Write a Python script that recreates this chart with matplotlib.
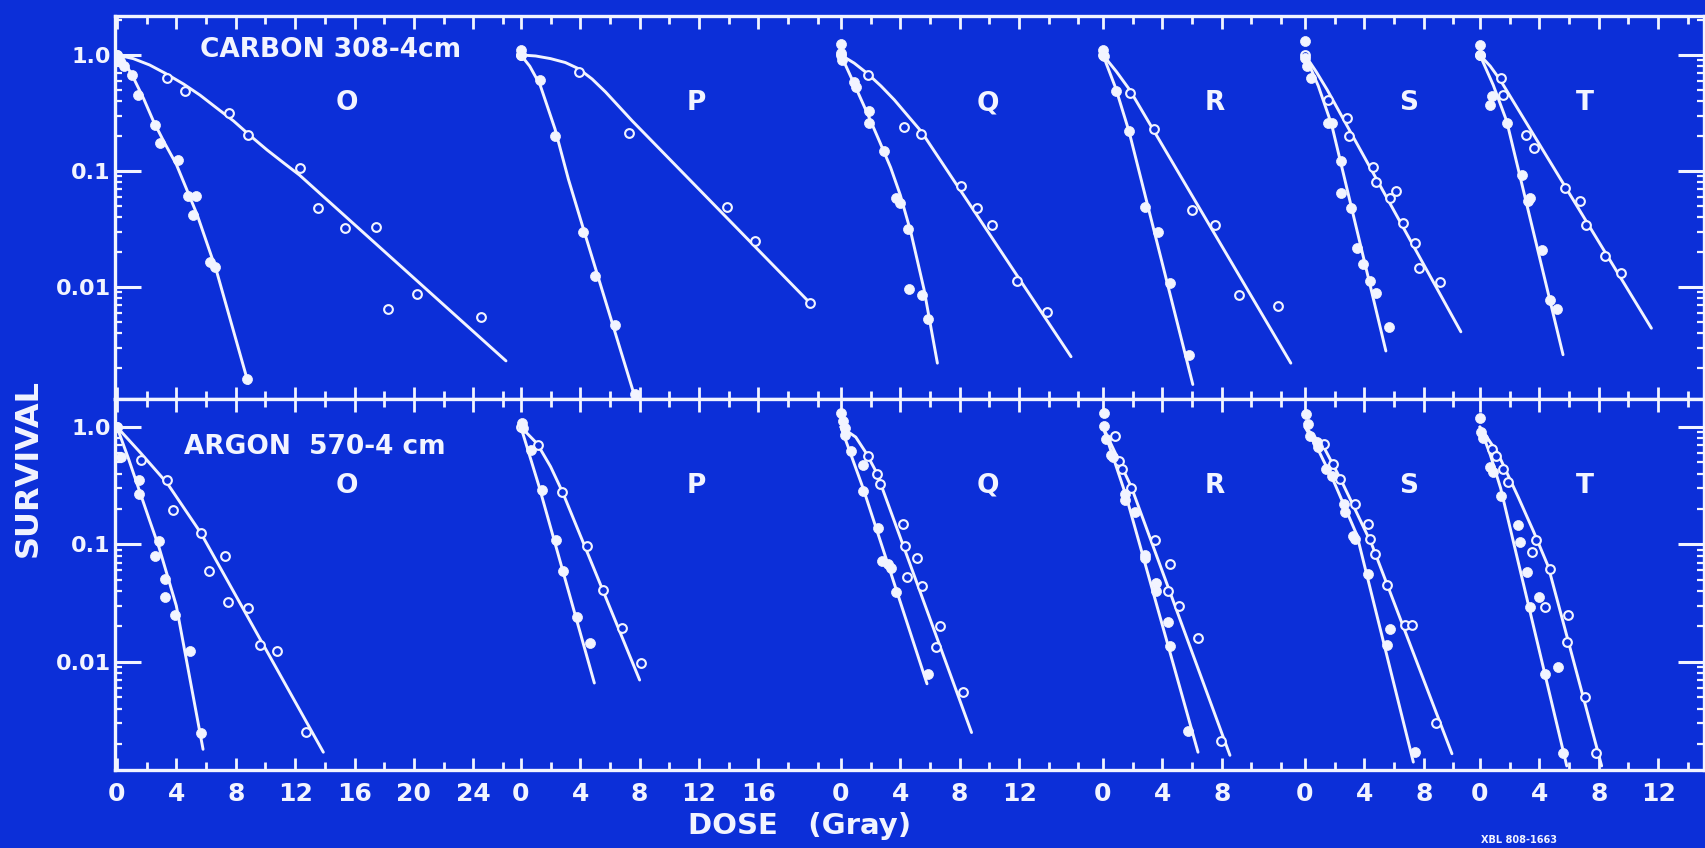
import matplotlib
matplotlib.use("Agg")
import matplotlib.pyplot as plt
from matplotlib.ticker import LogLocator, NullFormatter

BLUE = '#0c2fd8'
WHITE = '#f2f4ff'

plt.rcParams['font.family'] = ['DejaVu Sans']
plt.rcParams['font.weight'] = 'bold'

# panels share one dose axis; each panel's 0 Gy sits at its offset
panels = ['O', 'P', 'Q', 'R', 'S', 'T']
panel_offsets = [0, 27.2, 48.75, 66.4, 80.0, 91.78]
panel_labels = [[0, 4, 8, 12, 16, 20, 24], [0, 4, 8, 12, 16], [0, 4, 8, 12], [0, 4, 8], [0, 4, 8], [0, 4, 8, 12]]
panel_tick_end = [26, 20, 16, 12, 10, 14]
letter_x = [15.5, 11.8, 9.9, 7.5, 7.0, 7.1]

# ---- CARBON 308-4cm  (dose Gy, survival) ----
carbon_O_filled = [(0, 1.0), (0.2, 0.88), (0.5, 0.8), (1.0, 0.67), (1.45, 0.45), (2.55, 0.25), (2.9, 0.175),
                   (4.1, 0.125), (4.8, 0.061), (5.35, 0.061), (5.15, 0.042), (6.25, 0.0163), (6.6, 0.0148), (8.75, 0.0016)]
carbon_O_open = [(0, 1.0), (3.35, 0.63), (4.6, 0.49), (7.55, 0.316), (8.85, 0.203), (12.3, 0.105), (13.55, 0.048),
                 (15.35, 0.0325), (17.45, 0.033), (18.25, 0.0065), (20.2, 0.0087), (24.55, 0.0055)]
carbon_O_filled_fit = [(0, 1.0), (0.5, 0.88), (1.1, 0.64), (1.8, 0.42), (2.45, 0.27), (3.2, 0.175), (4.0, 0.114),
                       (5.4, 0.042), (6.7, 0.0138), (8.85, 0.00147)]
carbon_O_open_fit = [(0, 1.0), (1.1, 0.93), (2.2, 0.82), (3.3, 0.69), (4.5, 0.56), (5.6, 0.45), (6.7, 0.35),
                     (7.85, 0.27), (9.0, 0.2), (10.1, 0.152), (11.2, 0.118), (12.3, 0.092), (26.2, 0.0023)]

carbon_P_filled = [(0, 1.1), (0, 1.0), (1.3, 0.61), (2.3, 0.2), (4.2, 0.0295), (5.0, 0.0125), (6.35, 0.0047), (7.7, 0.0012)]
carbon_P_open = [(0, 1.0), (3.9, 0.72), (7.25, 0.213), (13.85, 0.049), (15.8, 0.025), (19.5, 0.0072)]
carbon_P_filled_fit = [(0, 1.0), (0.6, 0.8), (1.3, 0.55), (2.3, 0.23), (3.2, 0.085), (4.2, 0.032), (7.7, 0.0011)]
carbon_P_open_fit = [(0, 1.0), (1.0, 0.98), (2.0, 0.93), (3.0, 0.86), (3.9, 0.76), (4.8, 0.62), (5.7, 0.48),
                     (6.6, 0.36), (7.5, 0.27), (19.5, 0.0072)]

carbon_Q_filled = [(0, 1.25), (0, 1.05), (0.1, 0.9), (0.9, 0.59), (1.0, 0.53), (1.9, 0.33), (1.9, 0.26), (2.9, 0.148),
                   (3.7, 0.059), (3.95, 0.053), (4.5, 0.0316), (4.6, 0.0096), (5.45, 0.0085), (5.85, 0.0053)]
carbon_Q_open = [(0, 1.0), (1.8, 0.67), (4.25, 0.24), (5.4, 0.21), (8.1, 0.074), (9.2, 0.048), (10.2, 0.034),
                 (11.85, 0.0113), (13.9, 0.0061)]
carbon_Q_filled_fit = [(0, 1.0), (0.9, 0.56), (1.8, 0.31), (2.6, 0.18), (3.35, 0.107), (4.0, 0.062), (4.7, 0.030),
                       (5.6, 0.0095), (6.5, 0.0022)]
carbon_Q_open_fit = [(0, 1.0), (0.9, 0.85), (1.8, 0.69), (2.7, 0.54), (3.6, 0.41), (4.5, 0.3), (5.4, 0.22), (15.5, 0.0025)]

carbon_R_filled = [(0, 1.1), (0.05, 0.97), (0.85, 0.49), (1.75, 0.22), (2.85, 0.0486), (3.7, 0.0298), (4.5, 0.0108), (5.8, 0.0026)]
carbon_R_open = [(0, 1.0), (1.8, 0.47), (3.45, 0.23), (6.0, 0.0464), (7.55, 0.0344), (9.15, 0.0085), (11.8, 0.0069)]
carbon_R_filled_fit = [(0, 1.0), (0.85, 0.52), (1.75, 0.22), (6.05, 0.00144)]
carbon_R_open_fit = [(0, 1.0), (0.9, 0.72), (1.8, 0.5), (12.65, 0.0022)]

carbon_S_filled = [(0, 1.31), (0, 0.94), (0.15, 0.8), (0.4, 0.63), (1.55, 0.26), (1.8, 0.26), (2.45, 0.121), (2.45, 0.065),
                   (3.1, 0.048), (3.5, 0.0218), (3.9, 0.0156), (4.4, 0.0112), (4.8, 0.0089), (5.65, 0.0045)]
carbon_S_open = [(0, 1.0), (1.55, 0.41), (2.85, 0.286), (3.0, 0.2), (4.55, 0.108), (4.8, 0.081), (6.1, 0.067), (5.7, 0.058),
                 (6.6, 0.0356), (7.4, 0.024), (7.65, 0.0146), (9.1, 0.011)]
carbon_S_filled_fit = [(0, 1.0), (0.9, 0.54), (1.8, 0.25), (5.45, 0.0028)]
carbon_S_open_fit = [(0, 1.0), (0.75, 0.72), (1.5, 0.5), (10.5, 0.0041)]

carbon_T_filled = [(0, 1.23), (0, 1.0), (0.65, 0.37), (0.8, 0.44), (1.8, 0.26), (2.85, 0.093), (3.4, 0.058), (3.25, 0.055),
                   (4.15, 0.021), (4.7, 0.0077), (5.2, 0.0064)]
carbon_T_open = [(0, 1.0), (1.45, 0.63), (1.55, 0.45), (3.1, 0.206), (3.65, 0.158), (5.7, 0.071), (6.75, 0.055),
                 (7.15, 0.0344), (8.45, 0.0184), (9.5, 0.0132)]
carbon_T_filled_fit = [(0, 1.0), (0.9, 0.55), (1.8, 0.27), (5.6, 0.0026)]
carbon_T_open_fit = [(0, 1.0), (0.7, 0.8), (1.4, 0.6), (11.55, 0.0044)]

# ---- ARGON 570-4 cm ----
argon_O_filled = [(0, 1.0), (0.3, 0.56), (1.5, 0.35), (1.5, 0.27), (2.8, 0.106), (2.55, 0.079), (3.25, 0.051),
                  (3.25, 0.036), (3.9, 0.025), (4.95, 0.0123), (5.65, 0.0025)]
argon_O_open = [(0, 1.0), (1.65, 0.52), (3.4, 0.35), (3.75, 0.197), (5.65, 0.124), (7.25, 0.079), (6.2, 0.059),
                (7.5, 0.0326), (8.85, 0.0286), (9.65, 0.014), (10.75, 0.0123), (12.7, 0.00255)]
argon_O_filled_fit = [(0, 1.0), (0.75, 0.55), (1.5, 0.29), (2.2, 0.16), (2.85, 0.093), (4.0, 0.03), (5.8, 0.0018)]
argon_O_open_fit = [(0, 1.0), (1.6, 0.6), (3.4, 0.33), (5.65, 0.125), (13.9, 0.0017)]

argon_P_filled = [(0.1, 1.07), (0.15, 0.97), (0.65, 0.64), (1.4, 0.29), (2.4, 0.109), (2.85, 0.059), (3.75, 0.0243), (4.65, 0.0144)]
argon_P_open = [(0, 1.0), (1.15, 0.70), (2.8, 0.28), (4.45, 0.096), (5.55, 0.041), (6.8, 0.0194), (8.1, 0.0098)]
argon_P_filled_fit = [(0, 1.0), (1.2, 0.32), (4.95, 0.0066)]
argon_P_open_fit = [(0, 1.0), (1.1, 0.72), (2.0, 0.46), (2.8, 0.28), (8.0, 0.007)]

argon_Q_filled = [(0, 1.32), (0.15, 1.12), (0.25, 0.98), (0.25, 0.86), (0.7, 0.62), (1.5, 0.47), (1.5, 0.285), (2.5, 0.139),
                  (2.75, 0.072), (3.2, 0.068), (3.4, 0.063), (3.7, 0.039), (5.9, 0.0079)]
argon_Q_open = [(1.85, 0.57), (2.4, 0.40), (2.65, 0.325), (4.2, 0.149), (4.3, 0.097), (5.1, 0.077), (4.45, 0.053),
                (5.45, 0.044), (6.65, 0.0202), (6.4, 0.0135), (8.25, 0.0055)]
argon_Q_filled_fit = [(0, 1.0), (1.5, 0.3), (5.8, 0.0065)]
argon_Q_open_fit = [(0, 1.0), (1.0, 0.82), (1.7, 0.6), (2.4, 0.41), (8.8, 0.0025)]

argon_R_filled = [(0.1, 1.32), (0.1, 1.02), (0.2, 0.79), (0.55, 0.58), (0.65, 0.55), (1.45, 0.27), (1.45, 0.24), (2.15, 0.187),
                  (2.8, 0.082), (2.8, 0.077), (3.6, 0.047), (3.6, 0.04), (4.4, 0.022), (4.5, 0.0137), (5.7, 0.0026)]
argon_R_open = [(0.8, 0.84), (1.1, 0.51), (1.25, 0.44), (1.9, 0.30), (3.5, 0.11), (4.5, 0.068), (4.4, 0.04), (5.15, 0.030),
                (6.4, 0.016), (7.95, 0.0021)]
argon_R_filled_fit = [(0, 1.0), (1.55, 0.26), (6.4, 0.0017)]
argon_R_open_fit = [(0, 1.0), (1.9, 0.31), (8.55, 0.0016)]

argon_S_filled = [(0.1, 1.29), (0.2, 1.06), (0.35, 0.84), (0.8, 0.74), (0.9, 0.67), (1.45, 0.44), (1.8, 0.385), (2.6, 0.22),
                  (2.7, 0.19), (3.25, 0.119), (3.35, 0.111), (4.25, 0.056), (5.7, 0.019), (5.5, 0.0138), (7.4, 0.0017)]
argon_S_open = [(1.25, 0.72), (1.9, 0.48), (2.35, 0.36), (3.35, 0.22), (4.25, 0.149), (4.4, 0.111), (4.7, 0.083),
                (5.5, 0.045), (6.75, 0.0204), (7.2, 0.0204), (8.85, 0.003)]
argon_S_filled_fit = [(0, 1.0), (1.0, 0.6), (2.0, 0.33), (3.5, 0.12), (7.3, 0.0014)]
argon_S_open_fit = [(0, 1.0), (1.2, 0.7), (2.4, 0.36), (4.5, 0.1), (9.9, 0.00165)]

argon_T_filled = [(0, 1.18), (0.1, 0.91), (0.2, 0.8), (0.65, 0.46), (0.9, 0.41), (1.45, 0.26), (2.6, 0.146), (2.7, 0.105),
                  (3.15, 0.058), (3.35, 0.0294), (3.95, 0.0357), (4.4, 0.0079), (5.25, 0.0091), (5.6, 0.00166)]
argon_T_open = [(0.8, 0.65), (1.1, 0.57), (1.55, 0.44), (1.9, 0.34), (3.8, 0.108), (3.5, 0.086), (4.7, 0.062),
                (4.4, 0.0294), (5.95, 0.025), (5.85, 0.0148), (7.05, 0.005), (7.85, 0.00166)]
argon_T_filled_fit = [(0, 1.0), (0.7, 0.58), (1.4, 0.3), (5.85, 0.0013)]
argon_T_open_fit = [(0, 1.0), (1.2, 0.6), (2.6, 0.25), (3.6, 0.13), (4.6, 0.065), (8.2, 0.0013)]

carbon = {
    'O': (carbon_O_filled, carbon_O_open, carbon_O_filled_fit, carbon_O_open_fit),
    'P': (carbon_P_filled, carbon_P_open, carbon_P_filled_fit, carbon_P_open_fit),
    'Q': (carbon_Q_filled, carbon_Q_open, carbon_Q_filled_fit, carbon_Q_open_fit),
    'R': (carbon_R_filled, carbon_R_open, carbon_R_filled_fit, carbon_R_open_fit),
    'S': (carbon_S_filled, carbon_S_open, carbon_S_filled_fit, carbon_S_open_fit),
    'T': (carbon_T_filled, carbon_T_open, carbon_T_filled_fit, carbon_T_open_fit),
}
argon = {
    'O': (argon_O_filled, argon_O_open, argon_O_filled_fit, argon_O_open_fit),
    'P': (argon_P_filled, argon_P_open, argon_P_filled_fit, argon_P_open_fit),
    'Q': (argon_Q_filled, argon_Q_open, argon_Q_filled_fit, argon_Q_open_fit),
    'R': (argon_R_filled, argon_R_open, argon_R_filled_fit, argon_R_open_fit),
    'S': (argon_S_filled, argon_S_open, argon_S_filled_fit, argon_S_open_fit),
    'T': (argon_T_filled, argon_T_open, argon_T_filled_fit, argon_T_open_fit),
}


def shift(points, off):
    d, s = zip(*points)
    return [off + x for x in d], list(s)


def draw_row(ax, row, letter_y):
    for name, off, lx in zip(panels, panel_offsets, letter_x):
        filled, hollow, filled_fit, hollow_fit = row[name]
        for fit in (filled_fit, hollow_fit):
            x, y = shift(fit, off)
            ax.plot(x, y, color=WHITE, lw=2.1, solid_capstyle='round', solid_joinstyle='round', zorder=2)
        x, y = shift(hollow, off)
        ax.plot(x, y, 'o', ms=6.3, mfc=BLUE, mec=WHITE, mew=1.5, zorder=3)
        x, y = shift(filled, off)
        ax.plot(x, y, 'o', ms=7.2, mfc=WHITE, mec=WHITE, mew=0.5, zorder=4)
        ax.text(off + lx, letter_y, name, color=WHITE, fontsize=19, ha='center', va='center')


def style(ax, ylim):
    ax.set_facecolor(BLUE)
    ax.set_yscale('log')
    ax.set_xlim(-0.135, 106.87)
    ax.set_ylim(*ylim)
    for sp in ax.spines.values():
        sp.set_color(WHITE)
        sp.set_linewidth(2.4)
    ax.set_yticks([1, 0.1, 0.01])
    ax.set_yticklabels(['1.0', '0.1', '0.01'])
    ax.yaxis.set_minor_locator(LogLocator(base=10, subs=range(2, 10)))
    ax.yaxis.set_minor_formatter(NullFormatter())
    ax.tick_params(axis='y', which='major', direction='in', length=19, width=2.2, colors=WHITE,
                   left=True, right=True, labelsize=16, pad=3)
    ax.tick_params(axis='y', which='minor', direction='in', length=5, width=1.6, color=WHITE,
                   left=True, right=True)
    major, minor, labels = [], [], []
    for off, labs, end in zip(panel_offsets, panel_labels, panel_tick_end):
        for d in range(0, end + 1, 2):
            if d in labs:
                major.append(off + d)
                labels.append(str(d))
            else:
                minor.append(off + d)
    ax.set_xticks(major)
    ax.set_xticklabels(labels)
    ax.set_xticks(minor, minor=True)
    ax.tick_params(axis='x', which='major', direction='in', length=9, width=2.0, colors=WHITE,
                   top=True, bottom=True, labelsize=18, pad=9)
    ax.tick_params(axis='x', which='minor', direction='in', length=6, width=2.0, color=WHITE,
                   top=True, bottom=True)


fig = plt.figure(figsize=(17.05, 8.48), dpi=100, facecolor=BLUE)
ax_top = fig.add_axes([0.0674, 0.5295, 0.932, 0.4517])
ax_bot = fig.add_axes([0.0674, 0.092, 0.932, 0.4375])

style(ax_top, (0.00108, 2.17))
style(ax_bot, (0.0012, 1.73))
ax_top.tick_params(axis='x', labelbottom=False)

draw_row(ax_top, carbon, 0.385)
draw_row(ax_bot, argon, 0.316)

ax_top.text(14.4, 1.1, 'CARBON 308-4cm', color=WHITE, fontsize=19, ha='center', va='center')
ax_bot.text(13.3, 0.676, 'ARGON  570-4 cm', color=WHITE, fontsize=19, ha='center', va='center')

fig.text(0.0164, 0.448, 'SURVIVAL', color=WHITE, fontsize=23, rotation=90, ha='center', va='center')
fig.text(0.469, 0.026, 'DOSE   (Gray)', color=WHITE, fontsize=21, ha='center', va='center')
fig.text(0.891, 0.003, 'XBL 808-1663', color=WHITE, fontsize=7, ha='center', va='bottom')

fig.savefig('out.png', dpi=100, facecolor=BLUE)
